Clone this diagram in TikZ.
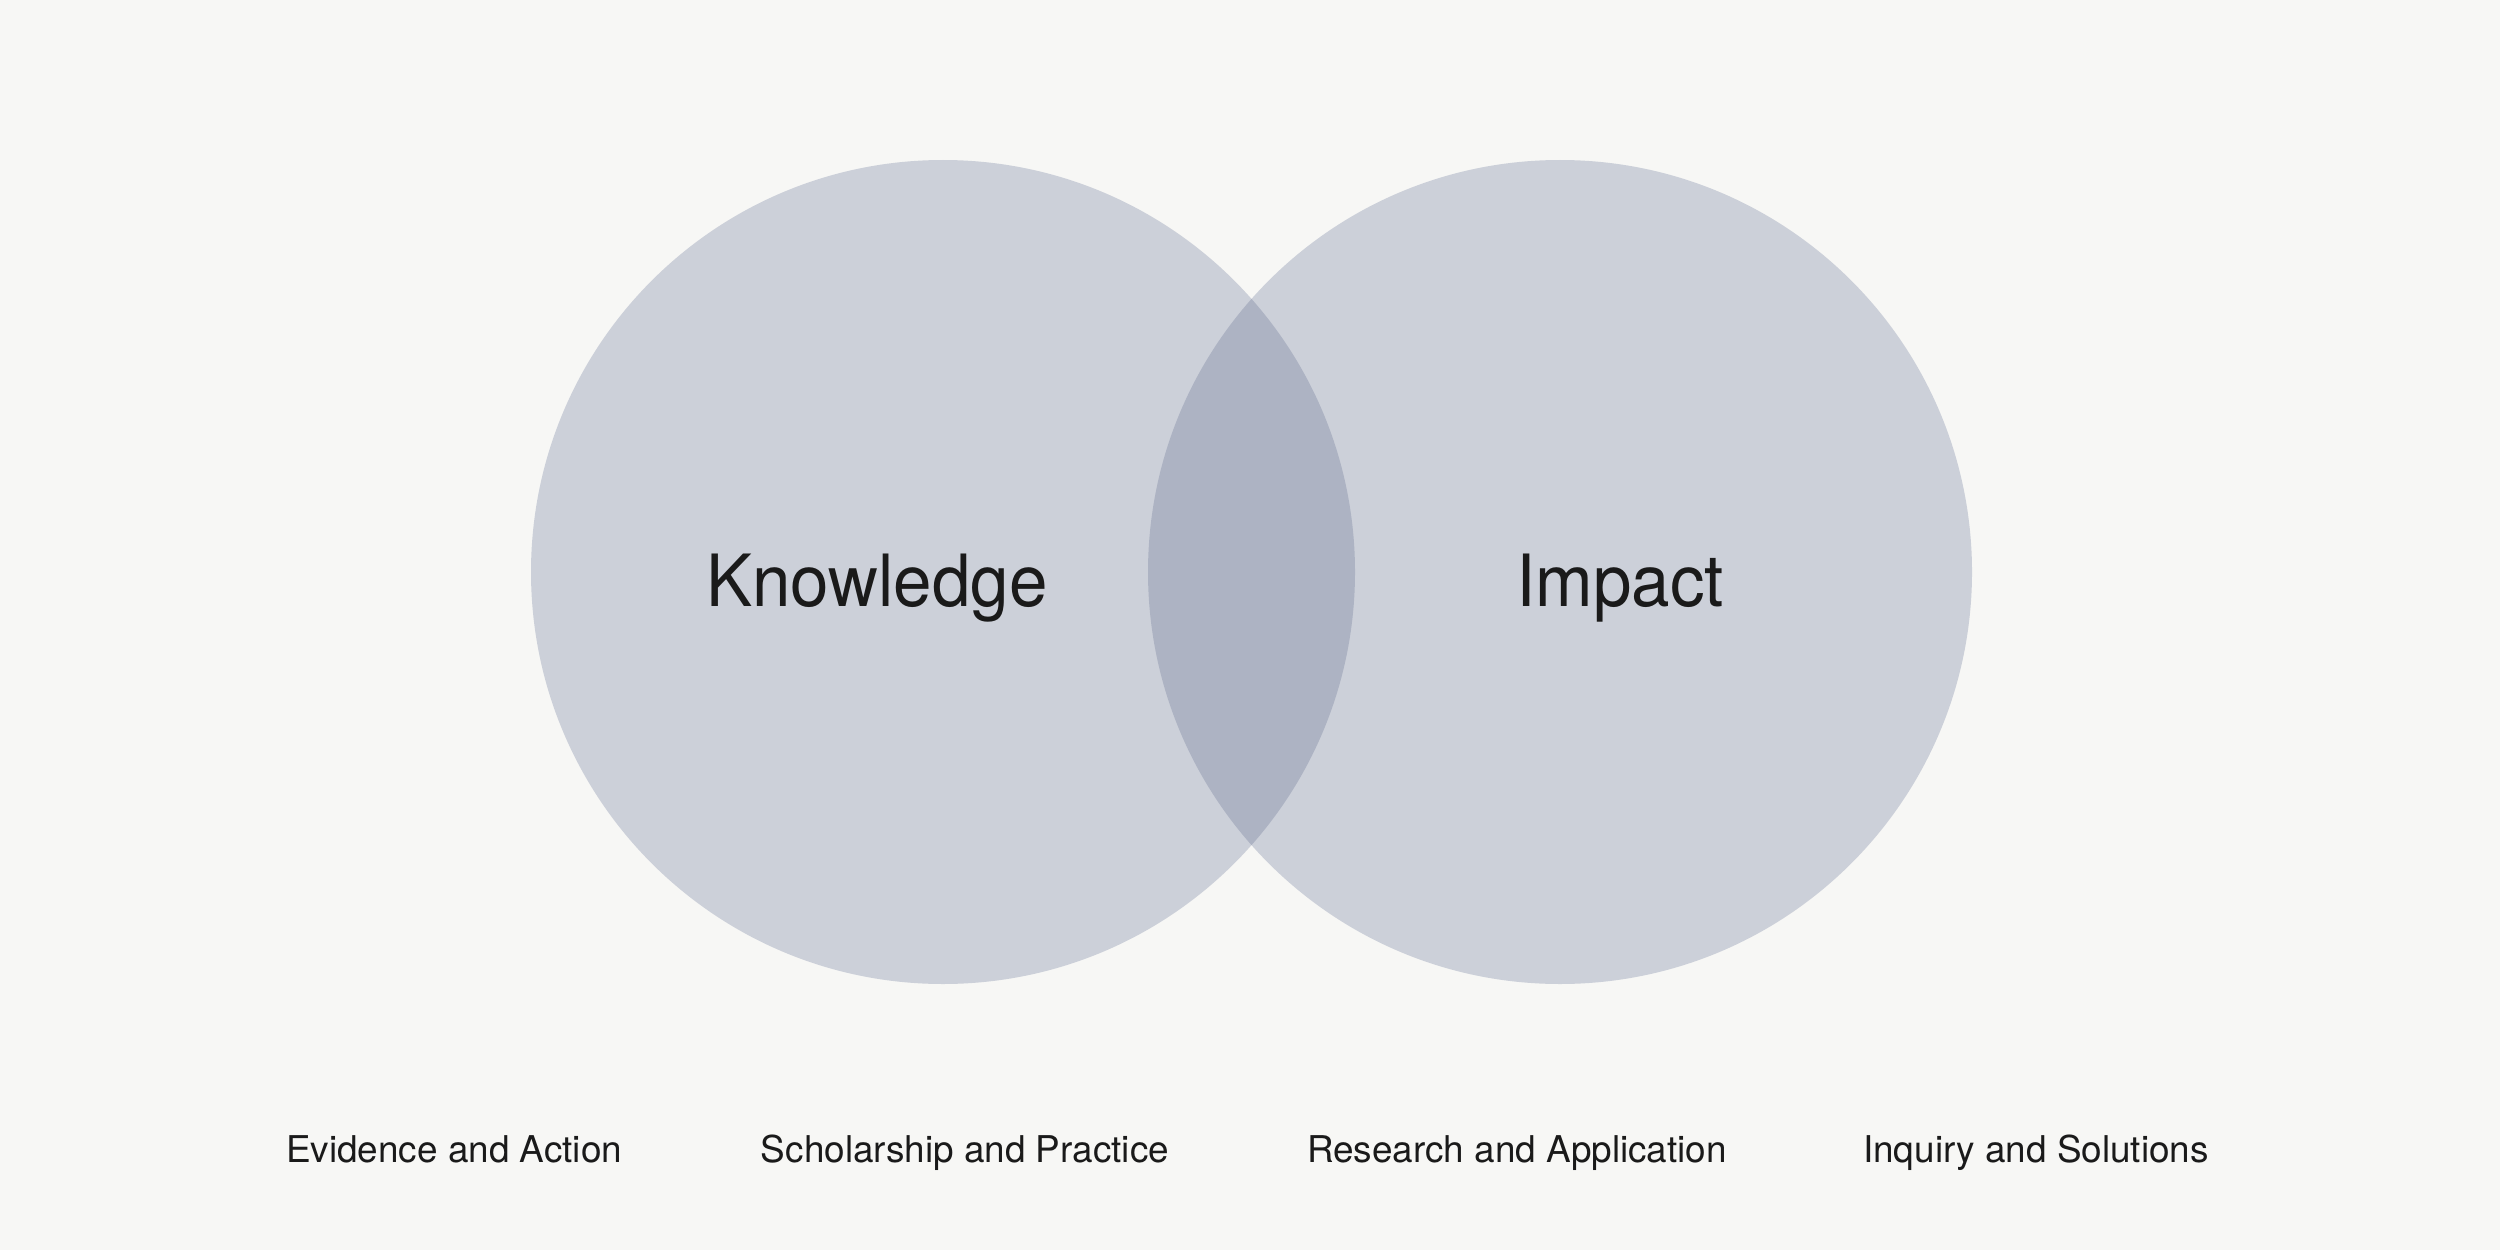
\documentclass[tikz,border=0pt]{standalone}
\usepackage{fontspec}
\setmainfont{TeX Gyre Heros}
\newfontfamily\bigfont[FakeStretch=0.96]{TeX Gyre Heros}
\newfontfamily\smallfont{TeX Gyre Heros}
\definecolor{bgc}{HTML}{F7F7F5}
\definecolor{circc}{HTML}{CCD0D9}
\definecolor{overc}{HTML}{ADB3C3}
\definecolor{txtc}{HTML}{1A1A1A}
\tikzset{
  bigtxt/.style={font=\bigfont\fontsize{41}{45}\selectfont, text=txtc, inner sep=0pt, anchor=base},
  labtxt/.style={font=\smallfont\fontsize{21}{25}\selectfont, text=txtc, inner sep=0pt, anchor=base},
}
\begin{document}
\begin{tikzpicture}[x=0.02cm,y=-0.02cm]
\fill[bgc] (0,0) rectangle (2500,1250);
\useasboundingbox (0,0) rectangle (2500,1250);
\fill[circc] (943,572) circle[radius=412];
\fill[circc] (1560,572) circle[radius=412];
\begin{scope}
\clip (943,572) circle[radius=412];
\fill[overc] (1560,572) circle[radius=412];
\end{scope}
\node[bigtxt] (know) at (877,606) {Knowledge};
\node[bigtxt] (imp) at (1620,606) {Impact};
\node[labtxt] (l1) at (454,1162) {Evidence and Action};
\node[labtxt] (l2) at (965,1162) {Scholarship and Practice};
\node[labtxt] (l3) at (1517,1162) {Research and Application};
\node[labtxt] (l4) at (2036,1162) {Inquiry and Solutions};
\end{tikzpicture}
\end{document}
